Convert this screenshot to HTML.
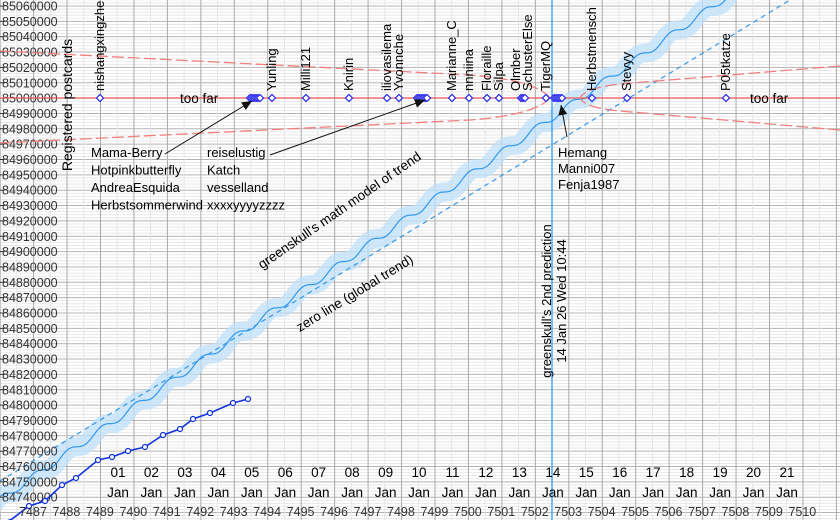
<!DOCTYPE html>
<html><head><meta charset="utf-8"><style>
body{margin:0;background:#fff}
svg{display:block;font-family:"Liberation Sans",sans-serif}
</style></head><body>
<svg id="s" width="840" height="520" viewBox="0 0 840 520" xmlns="http://www.w3.org/2000/svg">
<g id="grid"></g>
<g id="plot"></g>
</svg>
<script>
const NS="http://www.w3.org/2000/svg";
const s=document.getElementById('s'),grid=document.getElementById('grid'),plot=document.getElementById('plot');
function el(p,t,a,txt){const e=document.createElementNS(NS,t);for(const k in a)e.setAttribute(k,a[k]);if(txt!==undefined)e.textContent=txt;p.appendChild(e);return e;}
const Y=v=>6+(85060000-v)/10000*15.35;
for(let v=84720000;v<=85070000;v+=2000){const y=Y(v);const major=v%10000===0;
 el(grid,'line',{x1:0,x2:840,y1:y,y2:y,stroke:major?'#b4b4b4':'#e3e3e3','stroke-width':major?1:0.8});}
for(let k=-4;k<30;k++){const x=100.5+33.45*k;el(grid,'line',{x1:x,x2:x,y1:0,y2:520,stroke:'#aaa','stroke-width':1});
 const xm=x+16.7;el(grid,'line',{x1:xm,x2:xm,y1:0,y2:520,stroke:'#e2e2e2','stroke-width':0.8});}
function mm(x){return 500-x*0.6925+3.5*Math.sin((x-10)*2*Math.PI/33.45);}
let pts=[];for(let x=-10;x<=760;x+=2)pts.push([x,mm(x)]);
const d=pts.map((p,i)=>(i?'L':'M')+p[0].toFixed(1)+' '+p[1].toFixed(1)).join('');
el(plot,'path',{d:d,fill:'none',stroke:'#bfe0fa','stroke-opacity':0.75,'stroke-width':19,'stroke-linejoin':'round'});
el(plot,'path',{d:d,fill:'none',stroke:'#3399ee','stroke-width':1.2});
el(plot,'line',{x1:0,y1:481,x2:790,y2:0,stroke:'#3399ee','stroke-width':1.2,'stroke-dasharray':'5,4'});
for(let v=84740000;v<=85060000;v+=10000){el(plot,'text',{x:2,y:Y(v)+4.5,'font-size':12.5,fill:'#333'},String(v));
 el(plot,'line',{x1:0,x2:4,y1:Y(v),y2:Y(v),stroke:'#333'});}
el(plot,'line',{x1:0,x2:840,y1:98,y2:98,stroke:'#ee5555','stroke-width':1.2});
const rd={fill:'none',stroke:'#f08080','stroke-width':1.3,'stroke-dasharray':'12,4'};
el(plot,'path',Object.assign({d:'M0 51 L470 75 Q535 80 550 98'},rd));
el(plot,'path',Object.assign({d:'M0 143 L470 120 Q535 115 550 98'},rd));
el(plot,'path',Object.assign({d:'M840 66 L620 84 Q585 88 580 98'},rd));
el(plot,'path',Object.assign({d:'M840 130 L620 111 Q585 108 580 98'},rd));
el(plot,'line',{x1:552,x2:552,y1:0,y2:520,stroke:'#3399ee','stroke-width':1.3});
el(plot,'text',{transform:'translate(551,301) rotate(-90)','text-anchor':'middle','font-size':13},"greenskull's 2nd prediction");
el(plot,'text',{transform:'translate(566,301) rotate(-90)','text-anchor':'middle','font-size':13},"14 Jan 26 Wed 10:44");
const dp=[[12,519],[29,506],[45,501],[62,485],[76,478],[98,460],[112,457],[128,451],[145,447],[163,435],[180,429],[193,419],[210,413],[233,403],[248,399]];
el(plot,'path',{d:'M0 524 '+dp.map(p=>'L'+p[0]+' '+p[1]).join(''),fill:'none',stroke:'#1133dd','stroke-width':1.6});
dp.slice(1).forEach(p=>el(plot,'circle',{cx:p[0],cy:p[1],r:2.5,fill:'#fff',stroke:'#1133dd','stroke-width':1.2}));
const mk=[100,250,252,254,256,258,260,272,306,349,387,399,417,419,421,423,425,427,452,469,487,499,521,523,525,546,554,556,558,560,562,592,627,726];
mk.forEach(x=>el(plot,'path',{d:`M${x} 94.5 L${x+3.5} 98 L${x} 101.5 L${x-3.5} 98Z`,fill:'#fff',stroke:'#2222ee','stroke-width':1.2}));
const lab=[[104,'nishangxingzhe'],[276,'Yunling'],[310,'Milli121'],[353,'Knirin'],[391,'iliovasilema'],[403,'Yvonnche'],[456,'Marianne_C'],[473,'nnniina'],[491,'Floraille'],[503,'Silpa'],[520,'Olmber'],[532,'SchusterElse'],[550,'TigerMQ'],[596,'Herbstmensch'],[631,'Stevyy'],[730,'P05tkatze']];
lab.forEach(l=>el(plot,'text',{transform:`translate(${l[0]},91) rotate(-90)`,'font-size':13},l[1]));
el(plot,'text',{x:180,y:103,'font-size':13.5},'too far');
el(plot,'text',{x:750,y:103,'font-size':13.5},'too far');
function arrow(x1,y1,x2,y2){el(plot,'line',{x1,y1,x2,y2,stroke:'#111','stroke-width':1});
 const a=Math.atan2(y2-y1,x2-x1),L=10,W=4.5;
 const bx=x2-L*Math.cos(a),by=y2-L*Math.sin(a);
 el(plot,'path',{d:`M${x2} ${y2} L${bx+W*Math.sin(a)} ${by-W*Math.cos(a)} L${bx-W*Math.sin(a)} ${by+W*Math.cos(a)}Z`,fill:'#111'});}
arrow(165,154,252,101);arrow(270,155,425,100);arrow(567,137,561,105);
[['Mama-Berry','Hotpinkbutterfly','AndreaEsquida','Herbstsommerwind',91],['reiselustig','Katch','vesselland','xxxxyyyyzzzz',207]].forEach(g=>{
 for(let i=0;i<4;i++)el(plot,'text',{x:g[4],y:157+i*17.5,'font-size':13},g[i]);});
['Hemang','Manni007','Fenja1987'].forEach((t,i)=>el(plot,'text',{x:558,y:157+i*16,'font-size':13},t));
el(plot,'text',{transform:'translate(72,105) rotate(-90)','text-anchor':'middle','font-size':14},'Registered postcards');
el(plot,'text',{transform:'translate(342,214) rotate(-34.7)','text-anchor':'middle','font-size':13.5},"greenskull's math model of trend");
el(plot,'text',{transform:'translate(357,297) rotate(-31.5)','text-anchor':'middle','font-size':13.5},"zero line (global trend)");
for(let dd=1;dd<=21;dd++){const x=118+33.45*(dd-1);
 el(plot,'text',{x:x,y:477,'text-anchor':'middle','font-size':13.5},String(dd).padStart(2,'0'));
 el(plot,'text',{x:x,y:497,'text-anchor':'middle','font-size':13.5},'Jan');}
for(let n=7487;n<=7510;n++){el(plot,'text',{x:33+33.45*(n-7487),y:516,'text-anchor':'middle','font-size':12.5,fill:'#333'},String(n));}
</script>
</body></html>
